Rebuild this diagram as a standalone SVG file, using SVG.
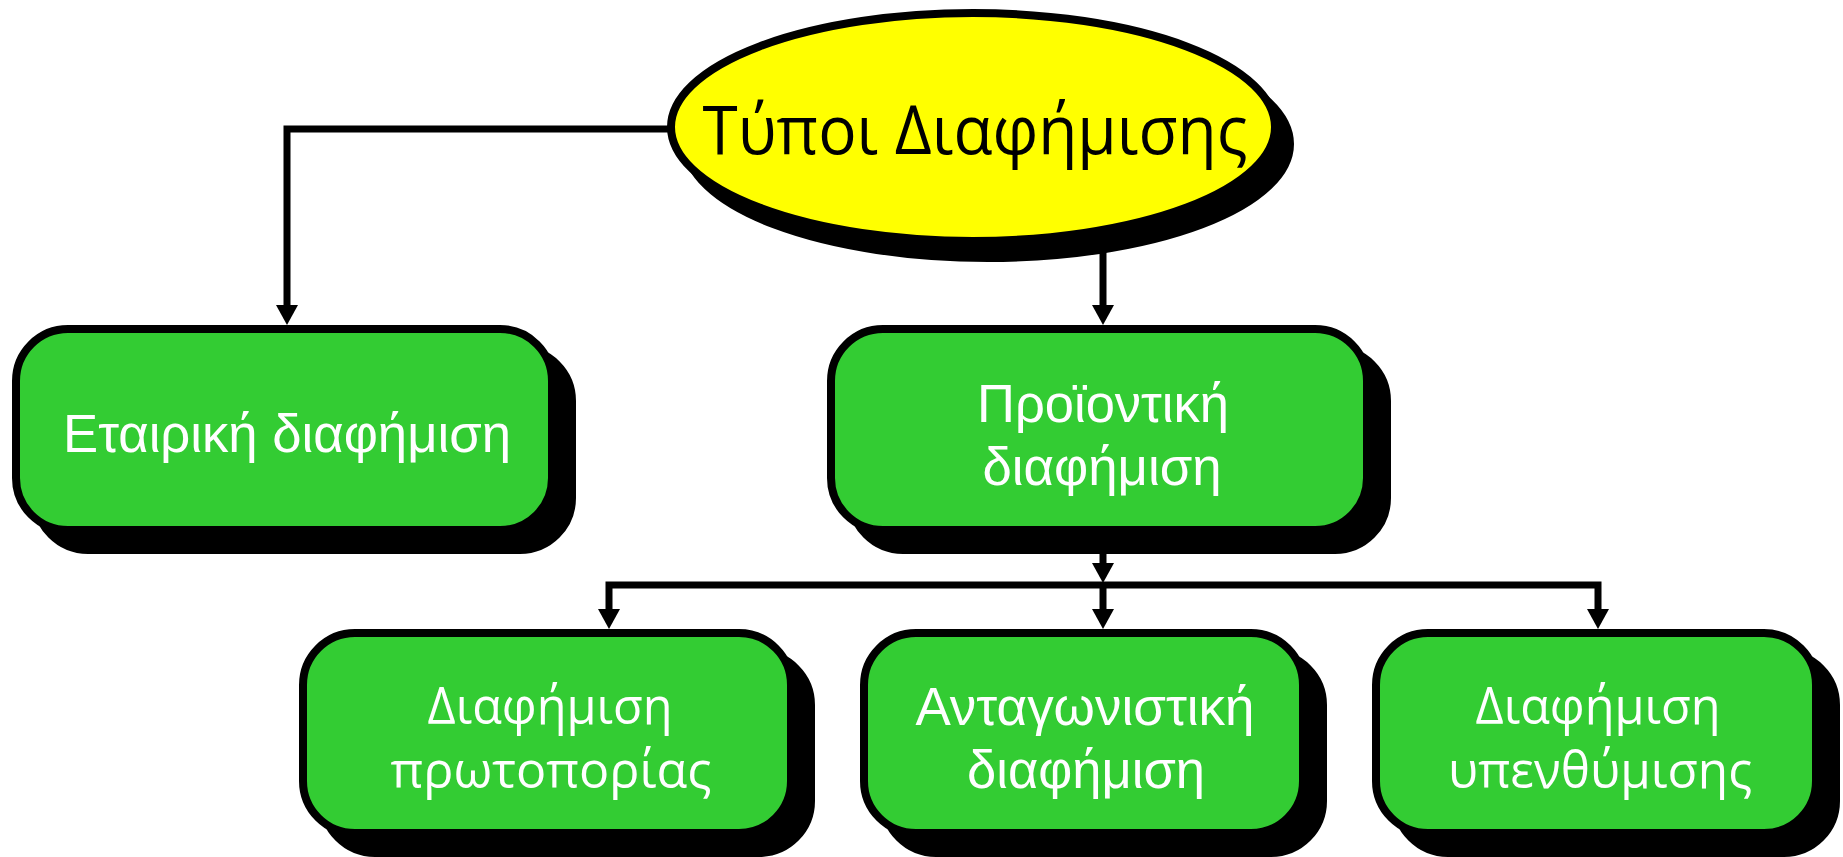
<svg xmlns="http://www.w3.org/2000/svg" width="1843" height="857" viewBox="0 0 1843 857">
  <style>
    .shadow { fill: #000; stroke: #000; stroke-width: 8; }
    .box { fill: #33CC33; stroke: #000; stroke-width: 8; }
    .oval { fill: #FFFF00; stroke: #000; stroke-width: 8; }
    .wire { fill: none; stroke: #000; stroke-width: 7; stroke-linejoin: miter; }
    .lbl-a { font-family: "Liberation Sans", Arial, sans-serif; font-size: 53px; fill: #fff; text-anchor: middle; }
    .lbl-h { font-family: "Open Sans", "Noto Sans", sans-serif; font-size: 52px; fill: #fff; text-anchor: middle; }
    .title { font-family: "Open Sans", "Noto Sans", sans-serif; font-size: 67px; fill: #000; text-anchor: middle; }
  </style>
  <defs>
    <marker id="arrow" markerUnits="userSpaceOnUse" markerWidth="20" markerHeight="22" viewBox="0 0 20 22" refX="0" refY="11" orient="auto">
      <path d="M0,0 L20,11 L0,22 z" fill="#000"/>
    </marker>
  </defs>

  <rect width="1843" height="857" fill="#fff"/>

  <!-- connectors -->
  <g id="connectors">
    <path class="wire" d="M671 129 H287 V305" marker-end="url(#arrow)"/>
    <path class="wire" d="M1103 235 V305" marker-end="url(#arrow)"/>
    <path class="wire" d="M1103 534 V563" marker-end="url(#arrow)"/>
    <path class="wire" d="M1103 585 H609 V609" marker-end="url(#arrow)"/>
    <path class="wire" d="M1103 585 H1598 V609" marker-end="url(#arrow)"/>
    <path class="wire" d="M1103 585 V609" marker-end="url(#arrow)"/>
  </g>

  <!-- root: types of advertising -->
  <g id="node-root">
    <ellipse class="shadow" cx="988" cy="144" rx="302" ry="114"/>
    <ellipse class="oval" cx="973" cy="127" rx="302" ry="114"/>
    <text class="title" x="975" y="154" textLength="545" lengthAdjust="spacingAndGlyphs">Τύποι Διαφήμισης</text>
  </g>

  <g id="node-corporate">
    <rect class="shadow" x="36" y="349" width="536" height="201" rx="52"/>
    <rect class="box" x="16" y="329" width="536" height="201" rx="52"/>
    <text class="lbl-a" x="287" y="452" textLength="448" lengthAdjust="spacingAndGlyphs">Εταιρική διαφήμιση</text>
  </g>

  <g id="node-product">
    <rect class="shadow" x="851" y="349" width="536" height="201" rx="52"/>
    <rect class="box" x="831" y="329" width="536" height="201" rx="52"/>
    <text class="lbl-a" x="1103" y="422" textLength="252" lengthAdjust="spacingAndGlyphs">Προϊοντική</text>
    <text class="lbl-a" x="1102" y="485" textLength="239" lengthAdjust="spacingAndGlyphs">διαφήμιση</text>
  </g>

  <g id="node-pioneer">
    <rect class="shadow" x="323" y="653" width="488" height="200" rx="52"/>
    <rect class="box" x="303" y="633" width="488" height="200" rx="52"/>
    <text class="lbl-h" x="550" y="724" textLength="245" lengthAdjust="spacingAndGlyphs">Διαφήμιση</text>
    <text class="lbl-h" x="551" y="788" textLength="321" lengthAdjust="spacingAndGlyphs">πρωτοπορίας</text>
  </g>

  <g id="node-competitive">
    <rect class="shadow" x="884" y="653" width="439" height="200" rx="52"/>
    <rect class="box" x="864" y="633" width="439" height="200" rx="52"/>
    <text class="lbl-a" x="1085" y="725" textLength="339" lengthAdjust="spacingAndGlyphs">Ανταγωνιστική</text>
    <text class="lbl-a" x="1086" y="788" textLength="238" lengthAdjust="spacingAndGlyphs">διαφήμιση</text>
  </g>

  <g id="node-reminder">
    <rect class="shadow" x="1396" y="653" width="440" height="200" rx="52"/>
    <rect class="box" x="1376" y="633" width="440" height="200" rx="52"/>
    <text class="lbl-h" x="1598" y="724" textLength="245" lengthAdjust="spacingAndGlyphs">Διαφήμιση</text>
    <text class="lbl-h" x="1600" y="788" textLength="304" lengthAdjust="spacingAndGlyphs">υπενθύμισης</text>
  </g>
</svg>
